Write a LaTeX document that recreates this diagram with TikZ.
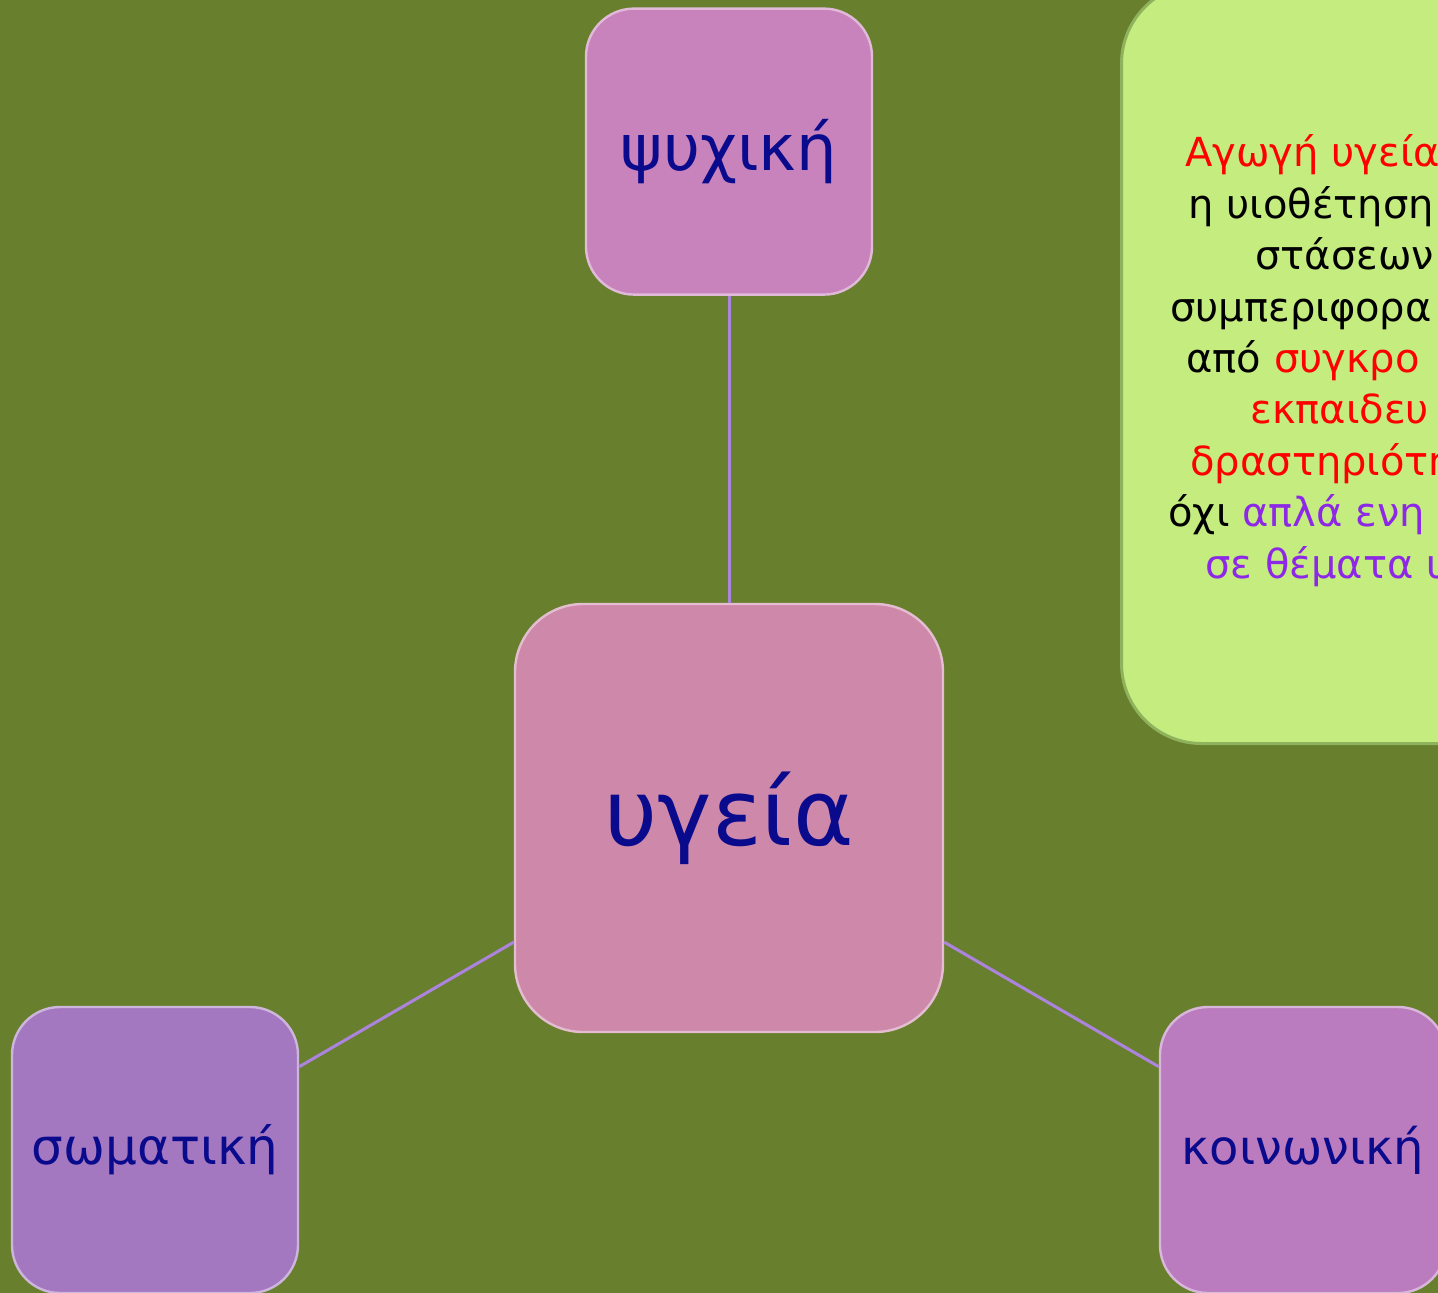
\documentclass[tikz,border=0pt]{standalone}
\usepackage{fontspec}
\setmainfont{DejaVu Sans}
\usetikzlibrary{positioning}

\definecolor{bgolive}{RGB}{104,128,46}
\definecolor{notegreen}{RGB}{196,236,126}
\definecolor{noteedge}{RGB}{143,178,92}
\definecolor{linkviolet}{RGB}{172,132,222}
\definecolor{labelnavy}{RGB}{10,10,140}
\definecolor{textpurple}{RGB}{140,40,230}
\definecolor{psyfill}{RGB}{200,130,188}
\definecolor{ygfill}{RGB}{205,136,170}
\definecolor{somfill}{RGB}{164,120,192}
\definecolor{koifill}{RGB}{186,124,190}

\begin{document}
\begin{tikzpicture}[x=0.5pt,y=-0.5pt,
    mapbox/.style={fill=#1,draw=#1!55!white,line width=1.2pt,rounded corners=24pt,
        minimum width=143pt,minimum height=143pt,inner sep=0pt,text=labelnavy},
    link/.style={draw=linkviolet,line width=1.5pt},
    noteline/.style={anchor=base west,inner sep=0pt,font=\fontsize{20pt}{24pt}\selectfont}]
    \useasboundingbox (0,0) rectangle (1438,1293);
    \clip (0,0) rectangle (1438,1293);
    \fill[bgolive] (0,0) rectangle (1438,1293);

    % centre and the three kinds
    \node[mapbox=ygfill,rounded corners=34pt,minimum width=214pt,minimum height=214pt,
        font=\fontsize{46pt}{50pt}\selectfont] (ygeia) at (729,818) {υγεία};
    \node[mapbox=psyfill,font=\fontsize{32pt}{36pt}\selectfont] (psychiki) [above=153.5pt of ygeia] {ψυχική};
    \node[mapbox=somfill,font=\fontsize{25pt}{30pt}\selectfont] (somatiki) at ([shift={(-574,332)}]ygeia) {σωματική};
    \node[mapbox=koifill,font=\fontsize{24pt}{28pt}\selectfont] (koinoniki) at ([shift={(574,332)}]ygeia) {κοινωνική};

    \path[link] (psychiki) edge (ygeia)
                (ygeia) edge (somatiki)
                (ygeia) edge (koinoniki);

    % note on the right
    \node[fill=notegreen,draw=noteedge,line width=1.5pt,rounded corners=40pt,
        minimum width=200pt,minimum height=380pt,anchor=north west] (note) at (1120,-18) {};
    \foreach \xx/\txt [count=\i] in {
        1185/{\color{red}Αγωγή υγεία},
        1188/{η υιοθέτηση},
        1255/{στάσεων},
        1170/{συμπεριφορα},
        1186/{από \color{red}συγκρο},
        1250/{\color{red}εκπαιδευ},
        1190/{\color{red}δραστηριότη},
        1168/{όχι \color{textpurple}απλά ενη},
        1205/{\color{textpurple}σε θέματα υ}}
        \node[noteline] (line\i) at (\xx,{167+51.4*(\i-1)}) {\txt};
\end{tikzpicture}
\end{document}
